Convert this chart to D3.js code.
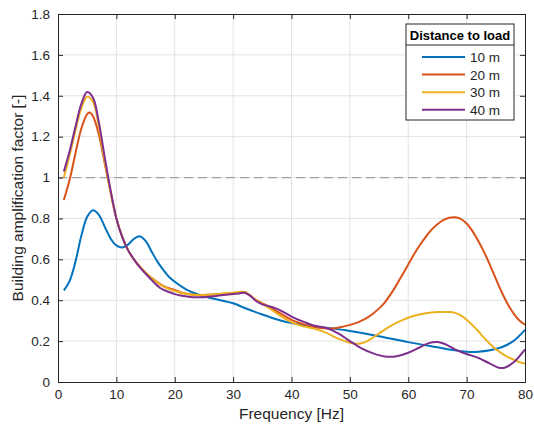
<!DOCTYPE html>
<html><head><meta charset="utf-8">
<script src="https://cdn.jsdelivr.net/npm/d3@7"></script>
<style>body{margin:0;background:#fff;} text{font-family:"Liberation Sans",Arial,sans-serif;}</style>
</head><body><svg id="c" width="534" height="430"></svg>
<script>
const seriesNames = ["10 m","20 m","30 m","40 m"];
const colors = ["#0072BD","#D95319","#EDB120","#7E2F8E"];
const xTicks = [0,10,20,30,40,50,60,70,80];
const yTicks = [0,0.2,0.4,0.6,0.8,1,1.2,1.4,1.6,1.8];
const legendTitle = "Distance to load";
const xLabel = "Frequency [Hz]";
const yLabel = "Building amplification factor [-]";

const d10 = [[1,0.448],[2,0.495],[3,0.59],[4,0.715],[5,0.808],[6,0.84],[7,0.818],[8,0.76],[9,0.702],[10,0.668],[11,0.658],[12,0.672],[13,0.70],[14,0.713],[15,0.69],[16,0.64],[17,0.59],[18,0.55],[19,0.515],[20,0.49],[22,0.452],[24,0.428],[26,0.412],[28,0.399],[30,0.385],[32,0.362],[35,0.33],[38,0.302],[40,0.288],[44,0.272],[50,0.25],[55,0.224],[60,0.195],[65,0.17],[68,0.155],[70,0.148],[72,0.148],[74,0.155],[76,0.17],[78,0.2],[80,0.255]];
const d20 = [[1,0.89],[2,0.99],[3,1.12],[4,1.24],[5,1.31],[5.4,1.318],[6,1.30],[7,1.21],[8,1.07],[9,0.93],[10,0.80],[11,0.71],[12,0.645],[13,0.60],[14,0.565],[15,0.535],[16,0.51],[18,0.47],[20,0.45],[22,0.432],[24,0.426],[26,0.427],[28,0.43],[30,0.435],[32,0.437],[34,0.40],[36,0.37],[38,0.337],[40,0.304],[42,0.283],[44,0.268],[47,0.262],[49,0.272],[51,0.288],[52,0.30],[53,0.315],[54,0.335],[55,0.36],[56,0.39],[57,0.43],[58,0.475],[59,0.525],[60,0.575],[61,0.625],[62,0.67],[63,0.71],[64,0.745],[65,0.772],[66,0.792],[67,0.803],[68,0.806],[69,0.798],[70,0.775],[71,0.738],[72,0.69],[73,0.635],[74,0.572],[75,0.505],[76,0.44],[77,0.383],[78,0.337],[79,0.302],[80,0.28]];
const d30 = [[1,1.0],[2,1.11],[3,1.23],[4,1.34],[5,1.395],[6,1.37],[7,1.25],[8,1.08],[9,0.93],[10,0.80],[11,0.71],[12,0.645],[13,0.60],[14,0.565],[15,0.535],[16,0.51],[18,0.468],[20,0.445],[22,0.43],[24,0.425],[26,0.427],[28,0.432],[30,0.437],[32,0.44],[34,0.40],[36,0.365],[38,0.325],[40,0.292],[42,0.272],[44,0.26],[46,0.24],[48,0.212],[50,0.192],[51,0.187],[52,0.19],[53,0.20],[55,0.238],[57,0.275],[59,0.303],[61,0.324],[63,0.336],[65,0.342],[67,0.342],[68,0.338],[69,0.326],[70,0.305],[71,0.278],[72,0.248],[73,0.216],[74,0.186],[75,0.16],[76,0.14],[77,0.123],[78,0.11],[79,0.098],[80,0.09]];
const d40 = [[1,1.03],[2,1.13],[3,1.25],[4,1.36],[5,1.418],[6,1.39],[7,1.27],[8,1.10],[9,0.94],[10,0.80],[11,0.71],[12,0.645],[13,0.60],[14,0.562],[15,0.53],[16,0.50],[17.5,0.46],[19,0.44],[20,0.43],[21,0.423],[23,0.415],[25,0.415],[28,0.424],[30,0.43],[31,0.433],[32,0.437],[33,0.42],[34,0.395],[35,0.38],[36,0.372],[37,0.363],[38,0.352],[40,0.32],[42,0.295],[44,0.275],[46,0.264],[48,0.238],[50,0.20],[52,0.165],[54,0.14],[56,0.125],[58,0.126],[60,0.143],[62,0.17],[63.5,0.19],[65,0.196],[66.5,0.183],[68,0.16],[70,0.137],[72,0.118],[74,0.09],[75.5,0.07],[76.5,0.07],[78,0.095],[80,0.16]];
const allSeries = [d10,d20,d30,d40];

const svg = d3.select("#c");
const L=58,R=525,T=14,B=382;
const x = d3.scaleLinear().domain([0,80]).range([L,R]);
const y = d3.scaleLinear().domain([0,1.8]).range([B,T]);
const axCol="#262626";

// grid
svg.append("g").selectAll("line").data(xTicks.slice(1,-1)).join("line")
  .attr("x1",d=>x(d)).attr("x2",d=>x(d)).attr("y1",T).attr("y2",B)
  .attr("stroke","#e3e3e3").attr("stroke-width",1);
svg.append("g").selectAll("line").data(yTicks.slice(1,-1)).join("line")
  .attr("y1",d=>y(d)).attr("y2",d=>y(d)).attr("x1",L).attr("x2",R)
  .attr("stroke","#e3e3e3").attr("stroke-width",1);

// reference dashed line
svg.append("line").attr("x1",L).attr("x2",R).attr("y1",y(1)).attr("y2",y(1))
  .attr("stroke","#a0a0a0").attr("stroke-width",1.3).attr("stroke-dasharray","9,5");

// lines
const line = d3.line().x(d=>x(d[0])).y(d=>y(d[1])).curve(d3.curveCatmullRom.alpha(0.5));
svg.append("g").selectAll("path").data(allSeries).join("path")
  .attr("d",line).attr("fill","none").attr("stroke",(d,i)=>colors[i]).attr("stroke-width",2);

// axes
const xa = svg.append("g").attr("transform",`translate(0,${B})`)
  .call(d3.axisBottom(x).tickValues(xTicks).tickSize(-5).tickPadding(7).tickFormat(d3.format("d")));
const xt = svg.append("g").attr("transform",`translate(0,${T})`)
  .call(d3.axisTop(x).tickValues(xTicks).tickSize(-5).tickFormat(""));
const ya = svg.append("g").attr("transform",`translate(${L},0)`)
  .call(d3.axisLeft(y).tickValues(yTicks).tickSize(-5).tickPadding(8).tickFormat(d=>String(+d.toFixed(1))));
const yr = svg.append("g").attr("transform",`translate(${R},0)`)
  .call(d3.axisRight(y).tickValues(yTicks).tickSize(-5).tickFormat(""));
[xa,xt,ya,yr].forEach(g=>{
  g.select(".domain").attr("stroke",axCol).attr("stroke-width",1);
  g.selectAll(".tick line").attr("stroke",axCol);
  g.selectAll(".tick text").attr("fill",axCol).attr("font-size",13.5).attr("font-family","Liberation Sans, Arial, sans-serif");
});

svg.append("text").attr("x",(L+R)/2).attr("y",419).attr("text-anchor","middle")
  .attr("font-size",15.5).attr("fill",axCol).text(xLabel);
svg.append("text").attr("transform",`translate(23,${(T+B)/2}) rotate(-90)`).attr("text-anchor","middle")
  .attr("font-size",15.5).attr("fill",axCol).text(yLabel);

// legend
const lg = svg.append("g");
const lx=406, ly=24, lw=108, lh=96;
lg.append("rect").attr("x",lx).attr("y",ly).attr("width",lw).attr("height",lh)
  .attr("fill","#fff").attr("stroke",axCol).attr("stroke-width",1);
lg.append("line").attr("x1",lx).attr("x2",lx+lw).attr("y1",ly+21).attr("y2",ly+21).attr("stroke",axCol);
lg.append("text").attr("x",lx+lw/2).attr("y",ly+15.5).attr("text-anchor","middle")
  .attr("font-size",13).attr("font-weight","bold").attr("fill","#000").text(legendTitle);
seriesNames.forEach((n,i)=>{
  const yy = ly+33+i*17.6;
  lg.append("line").attr("x1",422).attr("x2",465).attr("y1",yy).attr("y2",yy)
    .attr("stroke",colors[i]).attr("stroke-width",2);
  lg.append("text").attr("x",470).attr("y",yy+5).attr("font-size",13.5).attr("fill",axCol).text(n);
});
</script></body></html>
